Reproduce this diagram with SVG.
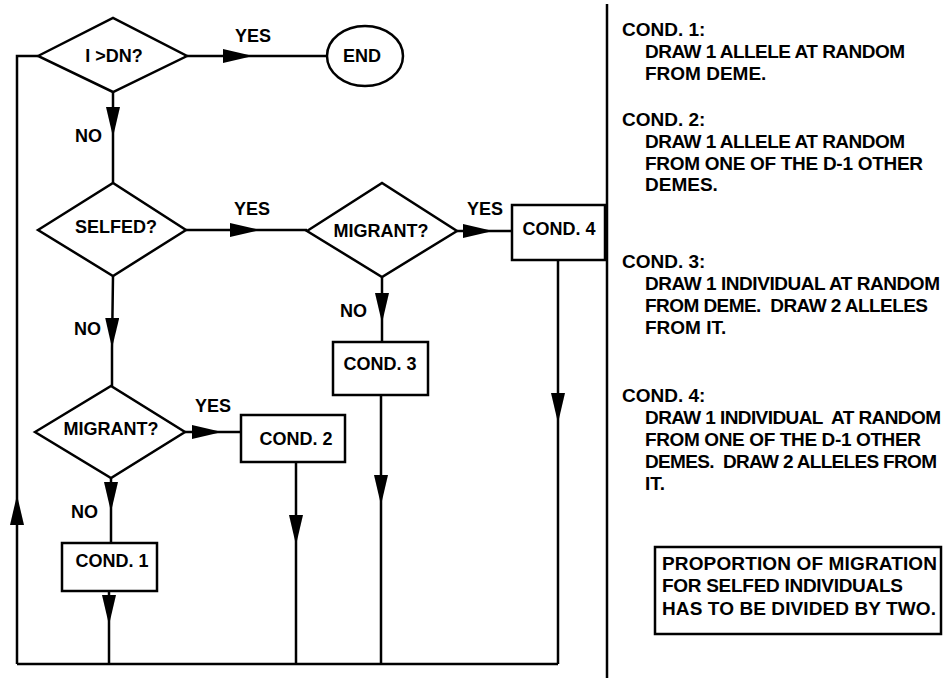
<svg xmlns="http://www.w3.org/2000/svg" width="946" height="678" viewBox="0 0 946 678">
<style>
.shape{fill:#fff;stroke:#000;stroke-width:2.5}
.ln{fill:none;stroke:#000;stroke-width:2.5}
.arr{fill:none;stroke:#000;stroke-width:2.5;marker-mid:url(#ah)}
text{font-family:"Liberation Sans",Arial,sans-serif;font-weight:bold;font-size:18px;fill:#000}
.c{text-anchor:middle}
.r{font-size:19px;white-space:pre}
</style>
<defs>
<marker id="ah" markerUnits="userSpaceOnUse" viewBox="0 0 30 14" markerWidth="30" markerHeight="14" refX="30" refY="7" orient="auto">
<path d="M0,0 L30,7 L0,14 Z" fill="#000"/>
</marker>
</defs>
<rect width="946" height="678" fill="#fff"/>
<g id="connectors">
<path class="arr" d="M187,56 L253,56 L327,56"/>
<path class="arr" d="M113,92 L113,137 L113,183"/>
<path class="arr" d="M186,230 L260,230 L307,230"/>
<path class="arr" d="M113,276 L112,348 L112,386"/>
<path class="arr" d="M457,231 L493,231 L512,231"/>
<path class="arr" d="M382,277 L382,323 L382,342"/>
<path class="arr" d="M185,432 L222,432 L241,432"/>
<path class="arr" d="M111,478 L111,512 L111,543"/>
<path class="arr" d="M109,591 L109,625 L109,664"/>
<path class="arr" d="M296,462 L296,545 L296,664"/>
<path class="arr" d="M381,395 L381,505 L381,664"/>
<path class="arr" d="M558,260 L558,423 L558,664"/>
<path class="arr" d="M17,664 L17,495 L17,300"/>
<path class="ln" d="M17,300 L17,56 L38,56"/>
<path class="ln" d="M17,664 L558,664"/>
<text class="c" x="253" y="42">YES</text>
<text x="75" y="142">NO</text>
<text class="c" x="252" y="215">YES</text>
<text x="74" y="335">NO</text>
<text class="c" x="485" y="215">YES</text>
<text x="340" y="317">NO</text>
<text class="c" x="213" y="412">YES</text>
<text x="71" y="518">NO</text>
</g>
<g id="dec1"><polygon class="shape" points="38,56 113,18 187,56 113,92"/><text class="c" x="114" y="62">I &gt;DN?</text></g>
<g id="end"><ellipse class="shape" cx="365" cy="56" rx="38" ry="30"/><text class="c" x="362" y="62">END</text></g>
<g id="dec2"><polygon class="shape" points="38,230 113,183 186,230 113,276"/><text class="c" x="116" y="233">SELFED?</text></g>
<g id="dec3"><polygon class="shape" points="307,231 382,183 457,231 382,277"/><text class="c" x="381" y="237">MIGRANT?</text></g>
<g id="cond4"><rect class="shape" x="512" y="205" width="93" height="55"/><text class="c" x="559" y="235">COND. 4</text></g>
<g id="cond3"><rect class="shape" x="333" y="342" width="95" height="53"/><text class="c" x="380" y="370">COND. 3</text></g>
<g id="dec4"><polygon class="shape" points="35,432 111,386 185,432 111,478"/><text class="c" x="111" y="435">MIGRANT?</text></g>
<g id="cond2"><rect class="shape" x="241" y="415" width="104" height="47"/><text class="c" x="296" y="445">COND. 2</text></g>
<g id="cond1"><rect class="shape" x="62" y="543" width="95" height="48"/><text class="c" x="112" y="567">COND. 1</text></g>
<g id="divider"><path class="ln" d="M607,4 L607,678"/></g>
<g id="legend">
<text class="r" x="622" y="36">COND. 1:</text>
<text class="r" x="645" y="58" textLength="260">DRAW 1 ALLELE AT RANDOM</text>
<text class="r" x="645" y="80">FROM DEME.</text>
<text class="r" x="622" y="126">COND. 2:</text>
<text class="r" x="645" y="148" textLength="260">DRAW 1 ALLELE AT RANDOM</text>
<text class="r" x="645" y="170" textLength="278">FROM ONE OF THE D-1 OTHER</text>
<text class="r" x="645" y="191">DEMES.</text>
<text class="r" x="622" y="268">COND. 3:</text>
<text class="r" x="645" y="290" textLength="295">DRAW 1 INDIVIDUAL AT RANDOM</text>
<text class="r" x="645" y="312" textLength="283" xml:space="preserve">FROM DEME.  DRAW 2 ALLELES</text>
<text class="r" x="645" y="334">FROM IT.</text>
<text class="r" x="622" y="402">COND. 4:</text>
<text class="r" x="645" y="424" textLength="296" xml:space="preserve">DRAW 1 INDIVIDUAL  AT RANDOM</text>
<text class="r" x="645" y="446" textLength="276">FROM ONE OF THE D-1 OTHER</text>
<text class="r" x="645" y="468" textLength="292" xml:space="preserve">DEMES.  DRAW 2 ALLELES FROM</text>
<text class="r" x="645" y="490">IT.</text>
</g>
<g id="note">
<rect class="shape" x="655" y="547" width="286" height="87"/>
<text class="r" x="662" y="570" textLength="275">PROPORTION OF MIGRATION</text>
<text class="r" x="662" y="592" textLength="241">FOR SELFED INDIVIDUALS</text>
<text class="r" x="662" y="615" textLength="274">HAS TO BE DIVIDED BY TWO.</text>
</g>
</svg>
